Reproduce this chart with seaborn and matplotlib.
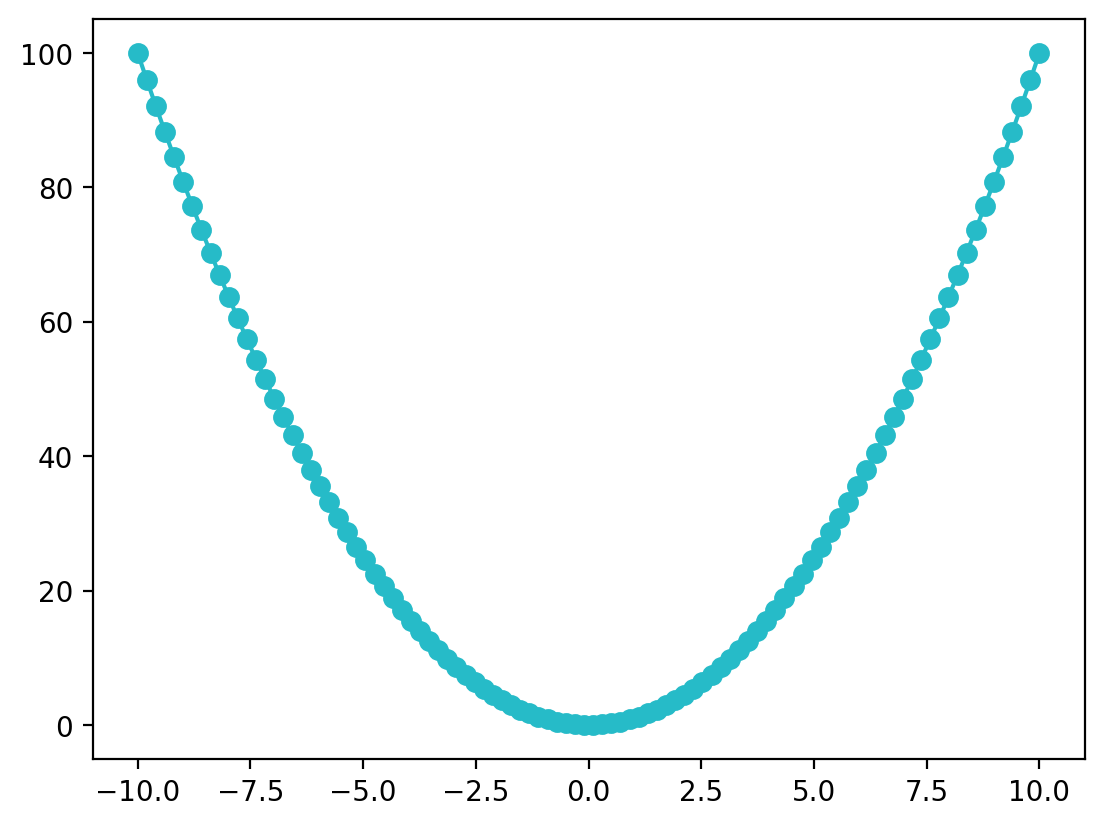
import matplotlib
matplotlib.use("Agg")
import matplotlib.pyplot as plt
import seaborn as sns

x_neg = [-10.000, -9.798, -9.596, -9.394, -9.192, -8.990, -8.788, -8.586, -8.384, -8.182,
         -7.980, -7.778, -7.576, -7.374, -7.172, -6.970, -6.768, -6.566, -6.364, -6.162,
         -5.960, -5.758, -5.556, -5.354, -5.152, -4.949, -4.747, -4.545, -4.343, -4.141,
         -3.939, -3.737, -3.535, -3.333, -3.131, -2.929, -2.727, -2.525, -2.323, -2.121,
         -1.919, -1.717, -1.515, -1.313, -1.111, -0.909, -0.707, -0.505, -0.303, -0.101]
y_neg = [100.00, 96.00, 92.08, 88.25, 84.49, 80.82, 77.23, 73.72, 70.29, 66.94,
         63.68, 60.49, 57.39, 54.37, 51.43, 48.58, 45.80, 43.11, 40.50, 37.97,
         35.52, 33.15, 30.86, 28.66, 26.54, 24.50, 22.54, 20.66, 18.87, 17.15,
         15.52, 13.97, 12.50, 11.11, 9.81, 8.58, 7.44, 6.38, 5.40, 4.50,
         3.68, 2.95, 2.30, 1.72, 1.23, 0.83, 0.50, 0.26, 0.09, 0.01]
x_pos = [0.101, 0.303, 0.505, 0.707, 0.909, 1.111, 1.313, 1.515, 1.717, 1.919,
         2.121, 2.323, 2.525, 2.727, 2.929, 3.131, 3.333, 3.535, 3.737, 3.939,
         4.141, 4.343, 4.545, 4.747, 4.949, 5.152, 5.354, 5.556, 5.758, 5.960,
         6.162, 6.364, 6.566, 6.768, 6.970, 7.172, 7.374, 7.576, 7.778, 7.980,
         8.182, 8.384, 8.586, 8.788, 8.990, 9.192, 9.394, 9.596, 9.798, 10.000]
y_pos = [0.01, 0.09, 0.26, 0.50, 0.83, 1.23, 1.72, 2.30, 2.95, 3.68,
         4.50, 5.40, 6.38, 7.44, 8.58, 9.81, 11.11, 12.50, 13.97, 15.52,
         17.15, 18.87, 20.66, 22.54, 24.50, 26.54, 28.66, 30.86, 33.15, 35.52,
         37.97, 40.50, 43.11, 45.80, 48.58, 51.43, 54.37, 57.39, 60.49, 63.68,
         66.94, 70.29, 73.72, 77.23, 80.82, 84.49, 88.25, 92.08, 96.00, 100.00]

x = x_neg + x_pos
y = y_neg + y_pos

color = "#26bbc8"
fig, ax = plt.subplots(figsize=(6.4, 4.8))
sns.lineplot(x=x, y=y, ax=ax, color=color, marker="o", markersize=6.5,
             markeredgecolor=color, markeredgewidth=1.0, linewidth=1.5,
             sort=False, estimator=None)
ax.set_xlabel("")
ax.set_ylabel("")
fig.savefig("out.png", dpi=200, bbox_inches="tight")
